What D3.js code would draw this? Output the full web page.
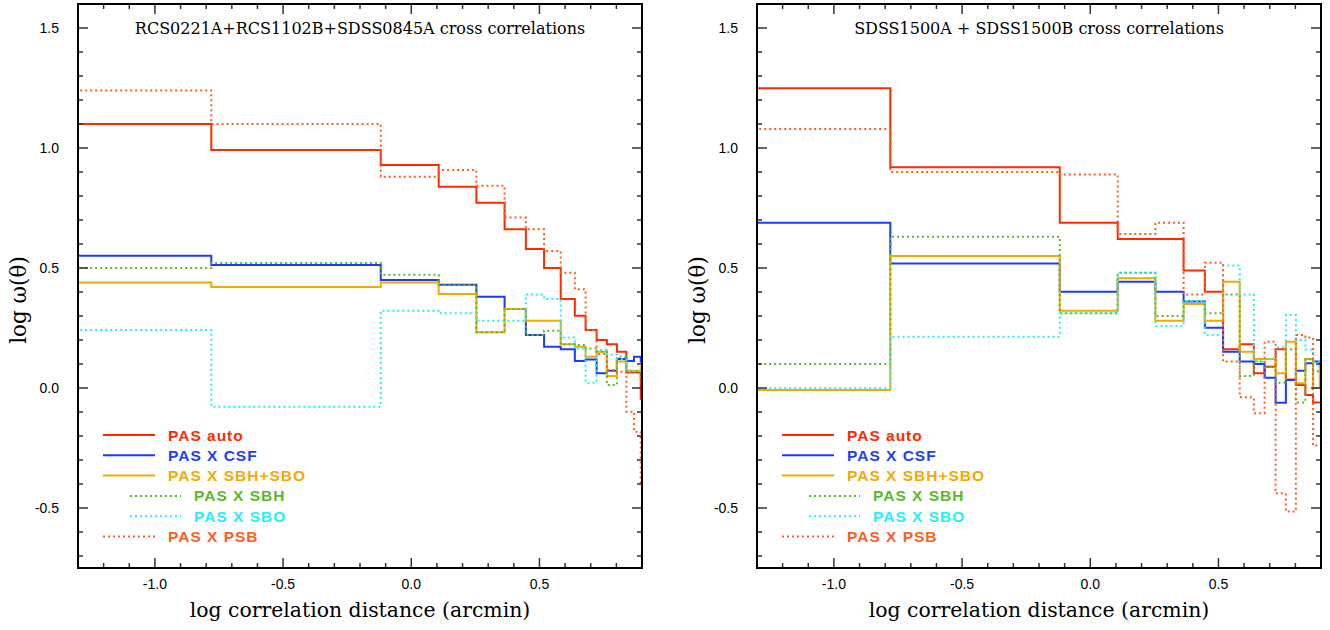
<!DOCTYPE html>
<html><head><meta charset="utf-8">
<script src="https://cdn.jsdelivr.net/npm/d3@7"></script>
<style>
html,body{margin:0;padding:0;background:#fff;}
svg{display:block;}
</style></head>
<body>
<svg id="chart" width="1330" height="630"></svg>
<script>
// ---- data ----
// bin edges (log arcmin); the last bin extends past the right edge of the frame
const binEdges = [-1.35, -0.780, -0.119, 0.107, 0.254, 0.364, 0.447, 0.518, 0.583, 0.638, 0.680, 0.723, 0.763, 0.802, 0.839, 0.869, 0.895, 0.95];

const xTicks = [-1.0, -0.5, 0.0, 0.5];
const yTicks = [-0.5, 0.0, 0.5, 1.0, 1.5];

const titles = ["RCS0221A+RCS1102B+SDSS0845A cross correlations", "SDSS1500A + SDSS1500B cross correlations"];
const seriesNames = ["PAS auto", "PAS X CSF", "PAS X SBH+SBO", "PAS X SBH", "PAS X SBO", "PAS X PSB"];

// left panel: RCS0221A+RCS1102B+SDSS0845A
const leftAuto   = [1.10, 0.992, 0.929, 0.839, 0.772, 0.661, 0.579, 0.500, 0.371, 0.301, 0.242, 0.200, 0.182, 0.151, 0.065, 0.065, -0.045];
const leftCSF    = [0.551, 0.513, 0.450, 0.430, 0.380, 0.329, 0.221, 0.172, 0.161, 0.112, 0.119, 0.061, 0.072, 0.121, 0.112, 0.130, 0.110];
const leftSBHSBO = [0.440, 0.421, 0.440, 0.392, 0.232, 0.329, 0.280, 0.280, 0.182, 0.172, 0.130, 0.151, 0.050, 0.110, 0.072, 0.072, 0.090];
const leftSBH    = [0.500, 0.521, 0.472, 0.430, 0.232, 0.329, 0.221, 0.239, 0.182, 0.179, 0.165, 0.151, 0.012, 0.130, 0.070, 0.070, 0.047];
const leftSBO    = [0.242, -0.078, 0.322, 0.311, 0.280, 0.280, 0.390, 0.371, 0.210, 0.165, 0.022, 0.158, 0.140, 0.120, 0.070, 0.070, 0.060];
const leftPSB    = [1.240, 1.100, 0.880, 0.908, 0.843, 0.710, 0.661, 0.571, 0.480, 0.411, 0.242, 0.142, 0.075, 0.068, -0.099, -0.182, -0.400];

// right panel: SDSS1500A + SDSS1500B
const rightAuto   = [1.249, 0.920, 0.689, 0.621, 0.621, 0.490, 0.401, 0.161, 0.182, 0.061, 0.089, 0.161, 0.035, 0.012, -0.029, -0.060, -0.060];
const rightCSF    = [0.689, 0.519, 0.401, 0.443, 0.401, 0.360, 0.251, 0.151, 0.110, 0.100, 0.043, -0.061, 0.033, 0.072, 0.103, 0.110, 0.100];
const rightSBHSBO = [-0.008, 0.550, 0.322, 0.457, 0.280, 0.350, 0.280, 0.443, 0.151, 0.121, 0.121, 0.061, 0.193, 0.020, 0.121, 0.000, 0.090];
const rightSBH    = [0.100, 0.630, 0.311, 0.480, 0.300, 0.362, 0.311, 0.390, 0.050, 0.110, 0.090, 0.022, 0.161, -0.060, 0.120, 0.070, 0.070];
const rightSBO    = [-0.001, 0.214, 0.311, 0.480, 0.258, 0.362, 0.221, 0.510, 0.390, 0.110, 0.120, 0.170, 0.304, 0.200, 0.160, 0.110, 0.080];
const rightPSB    = [1.079, 0.900, 0.890, 0.642, 0.689, 0.390, 0.522, 0.110, -0.039, -0.105, 0.193, -0.439, -0.515, 0.221, 0.210, -0.240, -0.240];

const leftSeries  = [leftAuto, leftCSF, leftSBHSBO, leftSBH, leftSBO, leftPSB];
const rightSeries = [rightAuto, rightCSF, rightSBHSBO, rightSBH, rightSBO, rightPSB];

// ---- styles ----
const colors = ["#ff2a00", "#1a3cff", "#f2a900", "#5cb82a", "#22eeff", "#ff5d1e"];
const dotted = [false, false, false, true, true, true];

const svg = d3.select("#chart");
const yTop = 4, yBot = 568;
const panels = [
  {x0: 78, x1: 642, title: titles[0], series: leftSeries},
  {x0: 757, x1: 1321, title: titles[1], series: rightSeries}
];

const fmt = d => d.toFixed(1);

panels.forEach((p, pi) => {
  const x = d3.scaleLinear().domain([-1.3, 0.9]).range([p.x0, p.x1]);
  const y = d3.scaleLinear().domain([-0.75, 1.6]).range([yBot, yTop]);
  const g = svg.append("g");

  const clipId = "clip" + pi;
  svg.append("defs").append("clipPath").attr("id", clipId)
    .append("rect").attr("x", p.x0).attr("y", yTop).attr("width", p.x1 - p.x0).attr("height", yBot - yTop);

  // series
  const line = d3.line().x(d => x(d[0])).y(d => y(d[1])).curve(d3.curveStepAfter);
  const plot = g.append("g").attr("clip-path", `url(#${clipId})`);
  p.series.forEach((vals, si) => {
    const pts = vals.map((v, i) => [binEdges[i], v]);
    pts.push([binEdges[vals.length], vals[vals.length - 1]]);
    plot.append("path").datum(pts)
      .attr("d", line)
      .attr("fill", "none")
      .attr("stroke", colors[si])
      .attr("stroke-width", 2)
      .attr("stroke-dasharray", dotted[si] ? "2,3" : null);
  });

  // ticks
  const minorX = x.ticks(22), minorY = y.ticks(24);
  const isMajor = v => Math.abs(v * 2 - Math.round(v * 2)) < 1e-6;
  const tg = g.append("g").attr("stroke", "#333").attr("stroke-width", 1.5);
  minorX.forEach(v => {
    const L = isMajor(v) ? 10 : 5;
    tg.append("line").attr("x1", x(v)).attr("x2", x(v)).attr("y1", yBot).attr("y2", yBot - L);
    tg.append("line").attr("x1", x(v)).attr("x2", x(v)).attr("y1", yTop).attr("y2", yTop + L);
  });
  minorY.forEach(v => {
    const L = isMajor(v) ? 10 : 5;
    tg.append("line").attr("x1", p.x0).attr("x2", p.x0 + L).attr("y1", y(v)).attr("y2", y(v));
    tg.append("line").attr("x1", p.x1).attr("x2", p.x1 - L).attr("y1", y(v)).attr("y2", y(v));
  });

  // frame
  g.append("rect").attr("x", p.x0).attr("y", yTop).attr("width", p.x1 - p.x0).attr("height", yBot - yTop)
    .attr("fill", "none").attr("stroke", "#000").attr("stroke-width", 2);

  // tick labels
  g.selectAll(".xl").data(xTicks).enter().append("text")
    .attr("x", d => x(d)).attr("y", 589)
    .attr("text-anchor", "middle")
    .attr("font-family", "Liberation Sans, Arial, sans-serif").attr("font-size", 14)
    .text(fmt);
  g.selectAll(".yl").data(yTicks).enter().append("text")
    .attr("x", p.x0 - 19).attr("y", d => y(d) + 5)
    .attr("text-anchor", "end")
    .attr("font-family", "Liberation Sans, Arial, sans-serif").attr("font-size", 14)
    .text(fmt);

  // axis titles
  g.append("text").attr("x", (p.x0 + p.x1) / 2).attr("y", 617)
    .attr("text-anchor", "middle")
    .attr("font-family", "DejaVu Serif, serif").attr("font-size", 20.4)
    .text("log correlation distance (arcmin)");
  g.append("text")
    .attr("transform", `translate(${p.x0 - 52},${300}) rotate(-90)`)
    .attr("text-anchor", "middle")
    .attr("font-family", "DejaVu Serif, serif").attr("font-size", 21.5)
    .text("log  ω(θ)");

  // title
  g.append("text").attr("x", (p.x0 + p.x1) / 2).attr("y", 34)
    .attr("text-anchor", "middle")
    .attr("font-family", "DejaVu Serif, serif").attr("font-size", 16)
    .text(p.title);

  // legend
  const lg = g.append("g");
  seriesNames.forEach((name, si) => {
    const yy = 435 + si * 20.3;
    const indent = (si === 3 || si === 4);
    const lx0 = p.x0 + (indent ? 52 : 25), lx1 = p.x0 + (indent ? 103 : 77);
    lg.append("line").attr("x1", lx0).attr("x2", lx1).attr("y1", yy).attr("y2", yy)
      .attr("stroke", colors[si]).attr("stroke-width", 2)
      .attr("stroke-dasharray", dotted[si] ? "2,3" : null);
    lg.append("text").attr("x", p.x0 + (indent ? 116 : 90)).attr("y", yy + 5.5)
      .attr("font-family", "Liberation Sans, Arial, sans-serif").attr("font-weight", "bold")
      .attr("font-size", 15.5).attr("letter-spacing", "1px")
      .attr("fill", colors[si])
      .text(name);
  });
});
</script>
</body></html>
